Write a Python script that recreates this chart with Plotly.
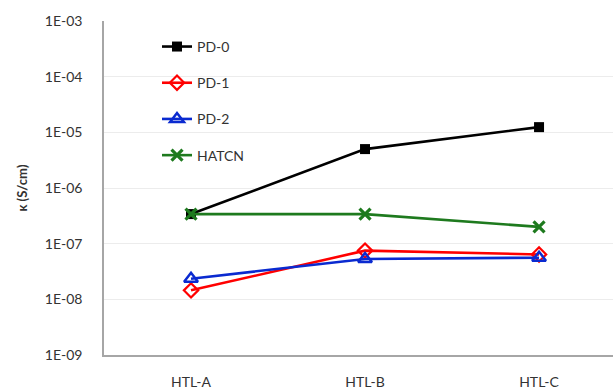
import plotly.graph_objects as go

categories = ["HTL-A", "HTL-B", "HTL-C"]
pd0 = [3.4e-7, 5.0e-6, 1.24e-5]
pd1 = [1.45e-8, 7.5e-8, 6.4e-8]
pd2 = [2.35e-8, 5.3e-8, 5.6e-8]
hatcn = [3.4e-7, 3.4e-7, 2.0e-7]
tick_vals = [1e-9, 1e-8, 1e-7, 1e-6, 1e-5, 1e-4, 1e-3]
tick_text = ["1E-09", "1E-08", "1E-07", "1E-06", "1E-05", "1E-04", "1E-03"]

FONT = "Lato, Open Sans, sans-serif"

fig = go.Figure()
series = [
    ("PD-0", pd0, "#000000", dict(symbol="square", size=10, color="#000000")),
    ("PD-1", pd1, "#ff0000", dict(symbol="diamond-open", size=11, color="#ff0000", line=dict(width=2.2, color="#ff0000"))),
    ("PD-2", pd2, "#0a2ad0", dict(symbol="triangle-up-open", size=12, color="#0a2ad0", line=dict(width=2.5, color="#0a2ad0"))),
    ("HATCN", hatcn, "#1e7a1e", dict(symbol="x-thin", size=11, color="#1e7a1e", line=dict(width=3.2, color="#1e7a1e"))),
]
for name, vals, col, mk in series:
    fig.add_trace(go.Scatter(
        x=categories, y=vals, name=name, mode="lines+markers",
        line=dict(color=col, width=2.6), marker=mk, legendgroup=name,
    ))

fig.update_layout(
    width=613, height=390,
    margin=dict(l=104, r=0, t=21, b=33),
    paper_bgcolor="white", plot_bgcolor="white",
    font=dict(family=FONT, size=14, color="#333333"),
    showlegend=True,
    legend=dict(x=(157 - 104) / 509, y=1 - (31 - 21) / 336, xanchor="left", yanchor="top",
                font=dict(size=14, color="#333333"),
                tracegroupgap=15, bgcolor="rgba(0,0,0,0)", itemsizing="trace"),
)
fig.update_xaxes(
    type="category", range=[-0.5, 2.425], showgrid=False,
    showline=True, linecolor="#a6a6a6", linewidth=1.5, ticks="",
    ticklabelstandoff=13, tickfont=dict(size=14, color="#333333"),
)
fig.update_yaxes(
    type="log", range=[-9, -3], tickvals=tick_vals, ticktext=tick_text,
    showgrid=True, gridcolor="#ececec", gridwidth=1,
    showline=True, linecolor="#a6a6a6", linewidth=1.5, ticks="",
    ticklabelstandoff=17, tickfont=dict(size=14, color="#333333"),
    title=dict(text="<b>κ (S/cm)</b>", font=dict(size=13, color="#333333"), standoff=14),
    zeroline=False,
)
fig.write_html("out.html")
